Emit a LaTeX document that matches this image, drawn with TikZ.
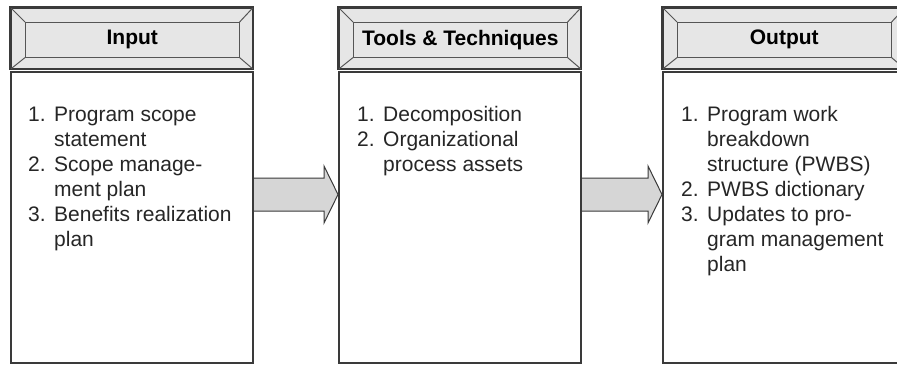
\documentclass[tikz,border=0pt]{standalone}
\usepackage{fontspec}
\setmainfont{Liberation Sans}
\usetikzlibrary{calc}
\definecolor{hdrfill}{HTML}{E6E6E6}
\definecolor{edgegray}{HTML}{3A3A3A}
\definecolor{bevelgray}{HTML}{555555}
\definecolor{arrowfill}{HTML}{D6D6D6}
\newcommand\itemnum[1]{\makebox[26pt][l]{#1}}
\newcommand\itemcont{\hspace*{26pt}}
\newcommand\listbox[1]{\parbox[t]{220pt}{\fontsize{21}{25}\selectfont\raggedright #1}}
\tikzset{
  body/.style={draw=edgegray, line width=2pt, fill=white, rectangle, inner sep=0, anchor=north west},
  hdr/.style={draw=edgegray, line width=1.6pt, fill=hdrfill, rectangle, inner sep=0, anchor=north west},
  bevel/.style={draw=bevelgray, line width=1pt},
  hdrtext/.style={font=\bfseries\fontsize{21}{25}\selectfont, inner sep=0},
  listtext/.style={inner sep=0, anchor=base west, text=black!85},
  flowarrow/.style={draw=edgegray, line width=1pt, fill=arrowfill, line join=miter}
}
\begin{document}
\begin{tikzpicture}[x=1pt, y=-1pt]
\useasboundingbox (0,0) rectangle (897,365);
\clip (0,0) rectangle (897,365);
\fill[white] (0,0) rectangle (897,365);
% column boxes
\foreach \n/\xl in {1/10, 2/338, 3/662} {
  \node[body, minimum width=242pt, minimum height=291pt] (b\n) at (\xl,71) {};
  \node[hdr, minimum width=242pt, minimum height=61pt] (h\n) at (\xl,7) {};
  \coordinate (i\n nw) at ($(h\n.north west)+(15,15)$);
  \coordinate (i\n se) at ($(h\n.south east)+(-14,-12)$);
  \draw[bevel] (i\n nw) rectangle (i\n se);
  \draw[bevel] (h\n.north west) -- (i\n nw);
  \draw[bevel] (h\n.south east) -- (i\n se);
  \draw[bevel] (h\n.north east) -- (i\n nw -| i\n se);
  \draw[bevel] (h\n.south west) -- (i\n nw |- i\n se);
  \draw[edgegray, line width=1.6pt] (h\n.north west) rectangle (h\n.south east);
}
% header titles
\node[hdrtext] (t1) at ($(i1nw)!0.5!(i1se)$) {Input};
\node[hdrtext] (t2) at ($(i2nw)!0.5!(i2se)$) {Tools \& Techniques};
\node[hdrtext] (t3) at ($(i3nw)!0.5!(i3se)$) {Output};
% lists
\node[listtext] (l1) at (28,121) {\listbox{\itemnum{1.}Program scope\\
\itemcont statement\\
\itemnum{2.}Scope manage-\\
\itemcont ment plan\\
\itemnum{3.}Benefits realization\\
\itemcont plan}};
\node[listtext] (l2) at (357,121) {\listbox{\itemnum{1.}Decomposition\\
\itemnum{2.}Organizational\\
\itemcont process assets}};
\node[listtext] (l3) at (681,121) {\listbox{\itemnum{1.}Program work\\
\itemcont breakdown\\
\itemcont structure (PWBS)\\
\itemnum{2.}PWBS dictionary\\
\itemnum{3.}Updates to pro-\\
\itemcont gram management\\
\itemcont plan}};
% arrows between boxes
\coordinate (a1s) at (b1.east |- 0,194.5);
\coordinate (a1e) at (b2.west |- 0,194.5);
\coordinate (a2s) at (b2.east |- 0,194.5);
\coordinate (a2e) at (b3.west |- 0,194.5);
\draw[flowarrow] (a1s) ++(0,-16.5) -- ($(a1e)+(-14,-16.5)$) -- ($(a1e)+(-14,-28.5)$) -- (a1e)
  -- ($(a1e)+(-14,28.5)$) -- ($(a1e)+(-14,16.5)$) -- ($(a1s)+(0,16.5)$);
\draw[flowarrow] (a2s) ++(0,-16.5) -- ($(a2e)+(-14,-16.5)$) -- ($(a2e)+(-14,-28.5)$) -- (a2e)
  -- ($(a2e)+(-14,28.5)$) -- ($(a2e)+(-14,16.5)$) -- ($(a2s)+(0,16.5)$);
\end{tikzpicture}
\end{document}
